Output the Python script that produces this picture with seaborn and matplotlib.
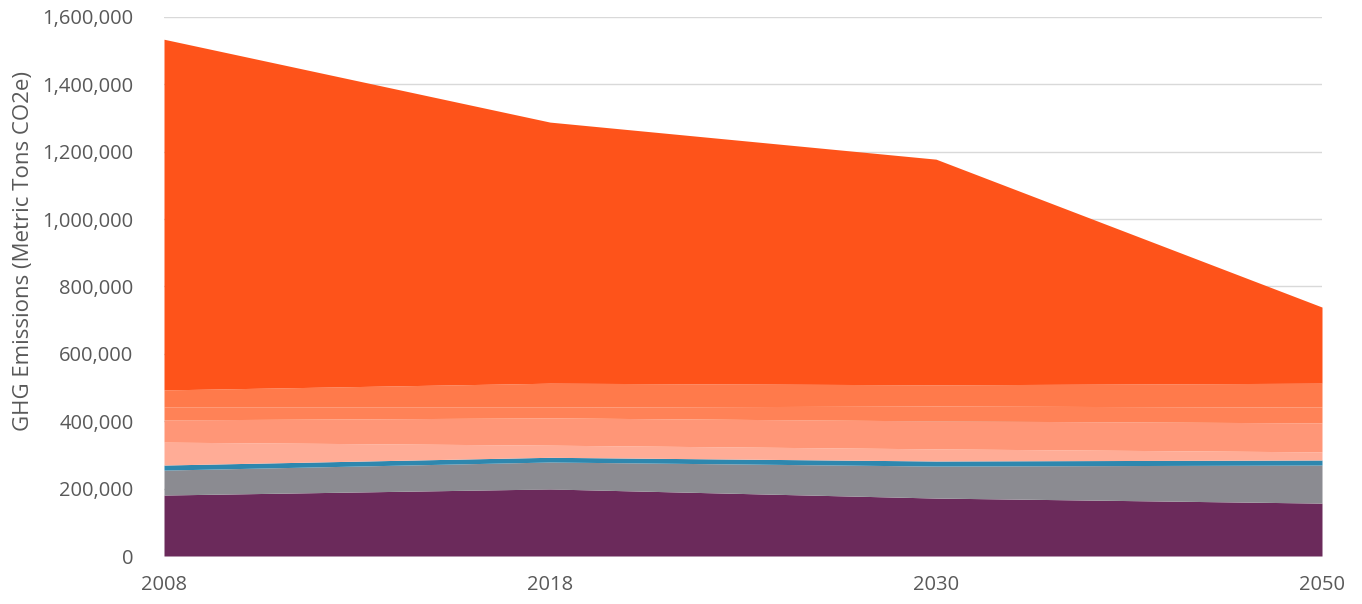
import matplotlib
matplotlib.use("Agg")
import matplotlib.pyplot as plt
from matplotlib.ticker import FuncFormatter
import seaborn as sns
import numpy as np

# Emission scenario years
years = ["2008", "2018", "2030", "2050"]

# Sector emissions (metric tons CO2e), stacked bottom to top
sector_a = [181000, 199000, 172000, 157000]
sector_b = [74000, 80000, 95000, 113000]
sector_c = [15000, 14000, 15000, 15000]
sector_d = [68000, 36000, 36000, 24000]
sector_e = [66000, 81000, 83000, 86000]
sector_f = [38000, 32000, 44000, 47000]
sector_g = [51000, 71000, 63000, 71000]
sector_h = [1041000, 775000, 670000, 226000]

layer_colors = ["#6B2A5B", "#8B8B91", "#2E87AE", "#FFAC96",
                "#FF9677", "#FF8257", "#FF7A4B", "#FE531A"]

y_ticks = [0, 200000, 400000, 600000, 800000, 1000000, 1200000, 1400000, 1600000]

sns.set_theme(style="white")
plt.rcParams["font.family"] = ["Open Sans", "DejaVu Sans"]

fig = plt.figure(figsize=(13.62, 6.04), dpi=100)
ax = fig.add_axes([164 / 1362, 1 - 556 / 604, (1322 - 164) / 1362, (556 - 17) / 604])

x = np.arange(len(years))
layers = [sector_a, sector_b, sector_c, sector_d, sector_e, sector_f, sector_g, sector_h]
ax.stackplot(x, *layers, colors=layer_colors, linewidth=0, zorder=2)

ax.set_xlim(0, len(years) - 1)
ax.set_ylim(0, 1600000)
ax.set_xticks(x)
ax.set_xticklabels(years)
ax.set_yticks(y_ticks)
ax.yaxis.set_major_formatter(FuncFormatter(lambda v, p: f"{int(v):,}"))

ax.grid(axis="y", color="#D9D9D9", linewidth=1, zorder=0)
ax.grid(axis="x", visible=False)
ax.set_axisbelow(True)
sns.despine(ax=ax, left=True, bottom=True, top=True, right=True)

ax.tick_params(axis="both", length=0, labelsize=14.5, colors="#595959")
ax.tick_params(axis="x", pad=14)
ax.tick_params(axis="y", pad=22)
ax.set_ylabel("GHG Emissions (Metric Tons CO2e)", fontsize=16, color="#595959")
ax.yaxis.set_label_coords(-0.112, 0.565)

fig.savefig("out.png", dpi=100)
